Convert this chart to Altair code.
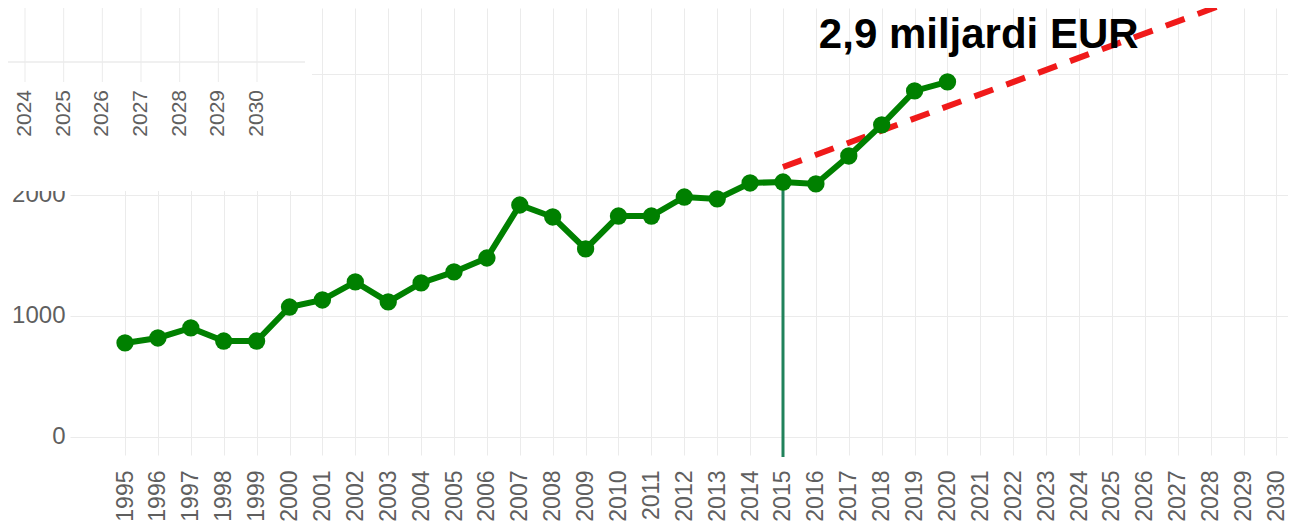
import altair as alt
import pandas as pd

# ---- data ----
years = list(range(1995, 2021))
values = [777, 818, 901, 793, 793, 1074, 1132, 1281, 1116, 1273, 1364, 1479,
          1917, 1818, 1554, 1826, 1826, 1983, 1967, 2099, 2107, 2091, 2322,
          2579, 2860, 2934]
axis_years = list(range(1995, 2031))
y_ticks = [0, 1000, 2000, 3000]
trend_years = [2015, 2030]
trend_values = [2231, 3736]
marker_year = [2015]
marker_top = [2107]
marker_bottom = [-165]
annot_text = ["2,9 miljardi EUR"]
annot_year = [2020.95]
annot_value = [3215]
inset_years = list(range(2024, 2031))

GRID = "#ebebeb"
LABEL = "#5f5f5f"
FONT = "Liberation Sans"

df = pd.DataFrame({"year": years, "value": values})
trend_df = pd.DataFrame({"year": trend_years, "value": trend_values})
marker_df = pd.DataFrame({"year": marker_year, "value": marker_top, "bottom": marker_bottom})
annot_df = pd.DataFrame({"year": annot_year, "value": annot_value, "label": annot_text})
inset_df = pd.DataFrame({"year": inset_years})
one_df = pd.DataFrame({"k": [0]})

x_scale = alt.Scale(domain=[1993.328, 2030.35], nice=False, zero=False)
y_scale = alt.Scale(domain=[-149, 3545], nice=False, zero=False)
x_axis = alt.Axis(values=axis_years, format="d", labelAngle=270, labelFontSize=23,
                  labelColor=LABEL, labelFont=FONT, labelPadding=15, ticks=False,
                  domain=False, grid=True, gridColor=GRID, gridWidth=1, title=None,
                  labelFlush=False, labelOverlap=False)
y_axis = alt.Axis(values=y_ticks, format="d", labelFontSize=24, labelColor=LABEL,
                  labelFont=FONT, labelPadding=5, ticks=False, domain=False, grid=True,
                  gridColor=GRID, gridWidth=1, title=None, labelFlush=False,
                  labelOverlap=False)

x_main = alt.X("year:Q", scale=x_scale, axis=x_axis)
y_main = alt.Y("value:Q", scale=y_scale, axis=y_axis)

vline = alt.Chart(marker_df).mark_rule(color="#21825b", strokeWidth=3).encode(
    x=x_main, y=y_main, y2="bottom:Q"
)
dashed = alt.Chart(trend_df).mark_line(color="#f01a1a", strokeWidth=6,
                                        strokeDash=[20, 14], clip=True).encode(
    x=x_main, y=y_main
)
line = alt.Chart(df).mark_line(color="#008000", strokeWidth=6).encode(x=x_main, y=y_main)
points = alt.Chart(df).mark_point(filled=True, color="#008000", size=300, opacity=1).encode(
    x=x_main, y=y_main
)
annot = alt.Chart(annot_df).mark_text(font=FONT, fontSize=42, fontWeight="bold",
                                      color="black", align="center",
                                      baseline="alphabetic").encode(
    x=x_main, y=y_main, text="label:N"
)

main = alt.layer(vline, dashed, line, points, annot)

# ---- inset fragment in the top-left corner ----
inset_x = alt.X("year:Q", scale=alt.Scale(domain=[2024, 2030], range=[-45, 187],
                                          nice=False, zero=False), axis=None)
cover = alt.Chart(one_df).mark_rect(color="white", opacity=1).encode(
    x=alt.value(-70), x2=alt.value(242), y=alt.value(-8), y2=alt.value(183)
)
inset_h = alt.Chart(one_df).mark_rule(color=GRID, strokeWidth=1.5).encode(
    x=alt.value(-70), x2=alt.value(235), y=alt.value(54)
)
inset_v = alt.Chart(inset_df).mark_rule(color=GRID, strokeWidth=1).encode(
    x=inset_x, y=alt.value(-8), y2=alt.value(74)
)
inset_lbl = alt.Chart(inset_df).mark_text(angle=270, align="right", baseline="middle",
                                          fontSize=21, color=LABEL, font=FONT).encode(
    x=inset_x, y=alt.value(82), text=alt.Text("year:Q", format="d")
)
inset = alt.layer(cover, inset_h, inset_v, inset_lbl)

chart = (
    alt.layer(main, inset)
    .resolve_scale(x="independent", y="independent")
    .properties(
        width=1218,
        height=447,
        padding={"left": 62, "top": 0, "right": 0, "bottom": 72},
        autosize=alt.AutoSizeParams(type="none"),
        background="white",
    )
    .configure_view(stroke=None)
)

chart.save("out.html", embed_options={"renderer": "svg", "actions": False})
